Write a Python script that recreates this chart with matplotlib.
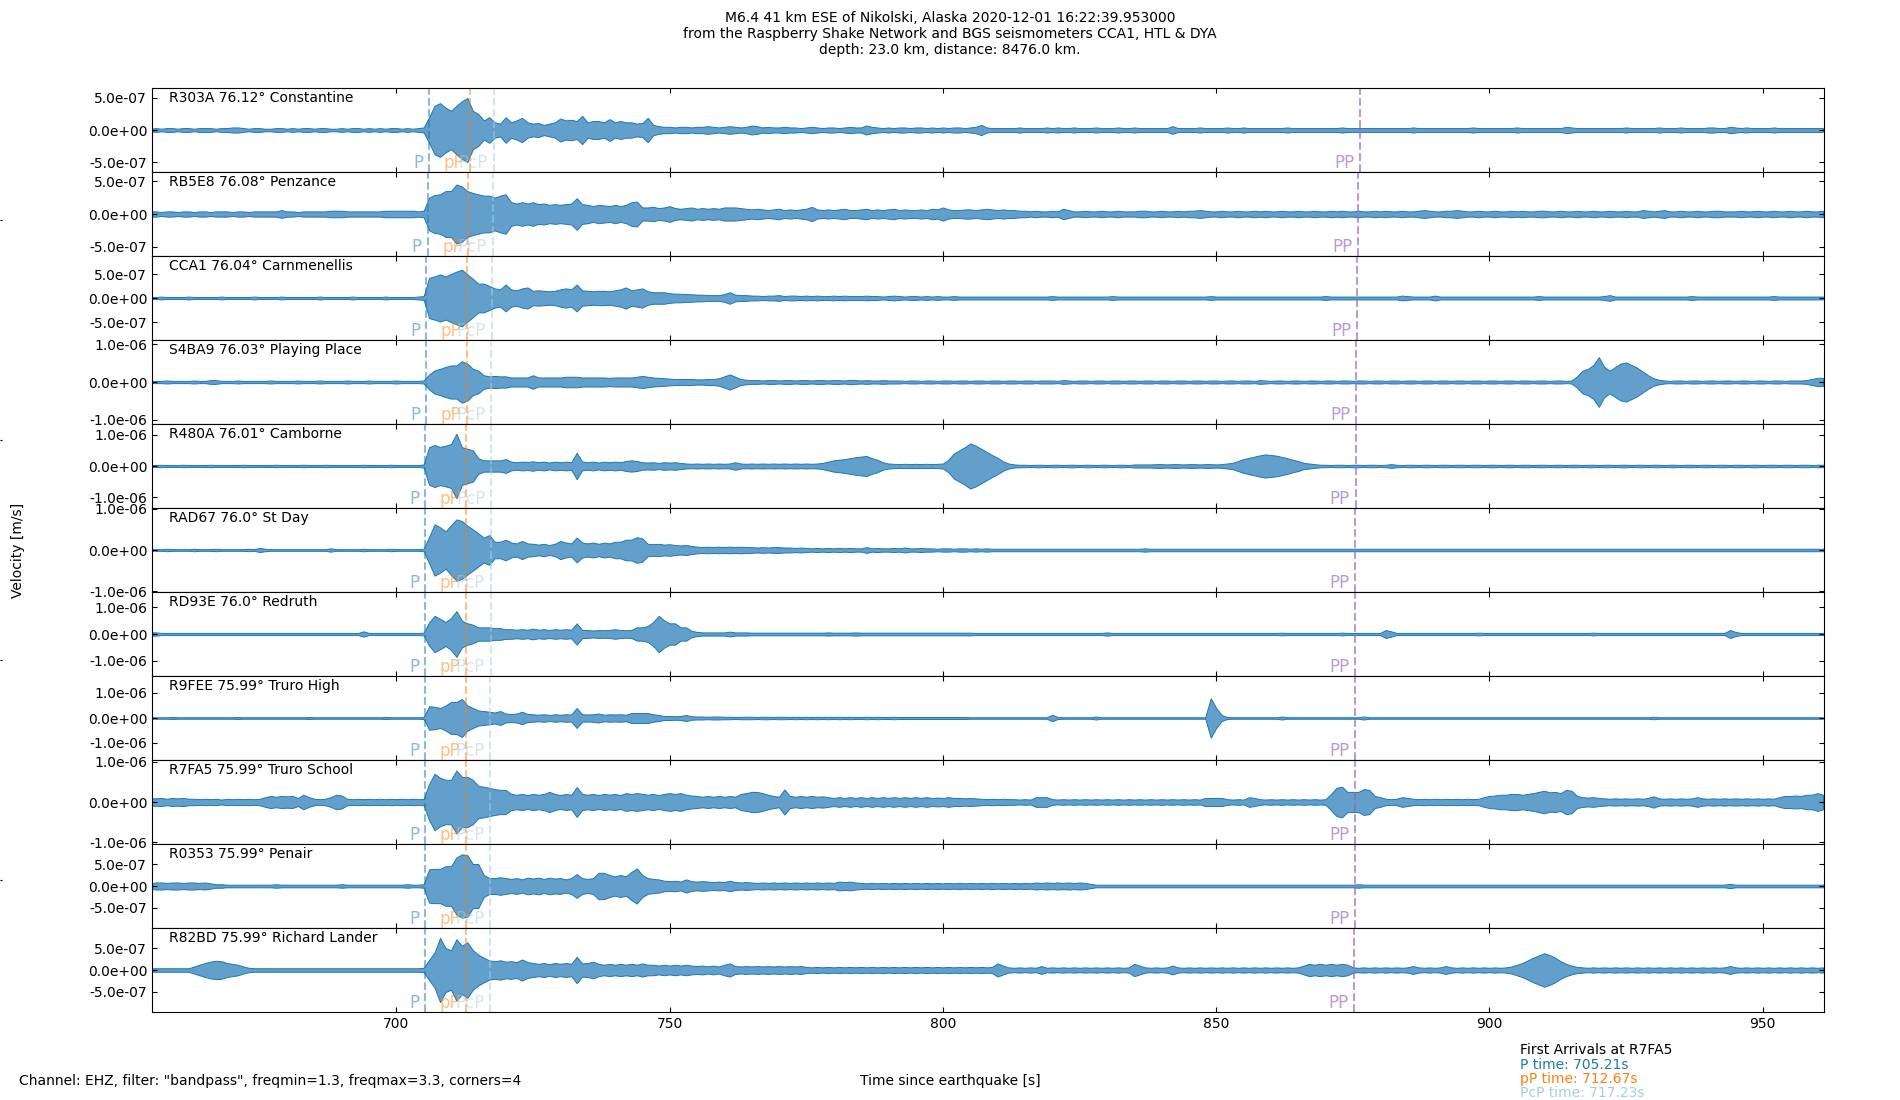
import numpy as np
import matplotlib
matplotlib.use("Agg")
import matplotlib.pyplot as plt
from matplotlib.ticker import FormatStrFormatter, MultipleLocator

# stations, top to bottom
CODES = ["R303A", "RB5E8", "CCA1", "S4BA9", "R480A", "RAD67", "RD93E", "R9FEE", "R7FA5", "R0353", "R82BD"]
DISTANCES = [76.12, 76.08, 76.04, 76.03, 76.01, 76.0, 76.0, 75.99, 75.99, 75.99, 75.99]
PLACES = ["Constantine", "Penzance", "Carnmenellis", "Playing Place", "Camborne", "St Day",
          "Redruth", "Truro High", "Truro School", "Penair", "Richard Lander"]

# phase arrival times per station [s]
P_TIMES = [705.93, 705.71, 705.49, 705.43, 705.32, 705.27, 705.27, 705.21, 705.21, 705.21, 705.21]
PP_SMALL_TIMES = [713.39, 713.17, 712.95, 712.89, 712.78, 712.73, 712.73, 712.67, 712.67, 712.67, 712.67]
PCP_TIMES = [717.82, 717.64, 717.46, 717.41, 717.32, 717.28, 717.28, 717.23, 717.23, 717.23, 717.23]
PP_TIMES = [876.3, 876.0, 875.75, 875.65, 875.5, 875.45, 875.45, 875.35, 875.35, 875.35, 875.3]

# y axis half range and tick value per station [m/s]
Y_LIMITS = [6.56e-7, 6.4e-7, 8.75e-7, 1.115e-6, 1.34e-6, 1.016e-6, 1.575e-6, 1.68e-6, 1.04e-6, 9.55e-7, 9.55e-7]
Y_TICKS = [5e-7, 5e-7, 5e-7, 1e-6, 1e-6, 1e-6, 1e-6, 1e-6, 1e-6, 5e-7, 5e-7]

# trace envelopes, one value per second from 655 s, units of 1e-8 m/s
T_START = 655.0
DT = 1.0

R303A_ENV = [
    2, 3, 2, 3, 3, 2, 3, 3, 2, 3,  # 655
    3, 3, 2, 3, 3, 4, 4, 3, 2, 3,  # 665
    3, 2, 2, 3, 3, 2, 3, 2, 3, 3,  # 675
    2, 3, 3, 2, 2, 3, 2, 3, 3, 2,  # 685
    3, 2, 3, 2, 3, 3, 2, 3, 2, 3,  # 695
    4, 20, 38, 42, 35, 30, 38, 45, 50, 30,  # 705
    25, 15, 20, 12, 10, 20, 12, 15, 19, 12,  # 715
    10, 11, 8, 10, 12, 18, 15, 16, 14, 22,  # 725
    12, 14, 14, 12, 17, 12, 14, 12, 12, 10,  # 735
    11, 19, 8, 6, 5, 5, 4, 5, 5, 4,  # 745
    5, 5, 6, 5, 4, 5, 6, 5, 4, 5,  # 755
    7, 6, 4, 5, 4, 4, 5, 4, 4, 3,  # 765
    4, 5, 4, 3, 4, 4, 3, 4, 5, 4,  # 775
    4, 7, 5, 4, 3, 4, 3, 4, 4, 3,  # 785
    4, 4, 3, 4, 3, 4, 3, 4, 4, 3,  # 795
    4, 5, 8, 4, 3, 3, 3, 3, 3, 4,  # 805
    3, 3, 3, 3, 4, 3, 4, 3, 3, 4,  # 815
    3, 3, 3, 4, 3, 3, 3, 4, 3, 3,  # 825
    4, 3, 3, 3, 3, 3, 3, 6, 3, 3,  # 835
    3, 3, 4, 3, 3, 3, 3, 4, 3, 3,  # 845
    4, 3, 3, 3, 3, 3, 3, 3, 4, 3,  # 855
    3, 3, 3, 3, 3, 3, 3, 3, 4, 3,  # 865
    3, 3, 3, 3, 3, 3, 3, 3, 3, 3,  # 875
    3, 4, 3, 3, 3, 3, 3, 3, 3, 3,  # 885
    3, 3, 4, 3, 3, 3, 3, 3, 3, 3,  # 895
    4, 3, 3, 3, 3, 3, 3, 3, 3, 5,  # 905
    4, 3, 3, 3, 3, 3, 3, 3, 3, 3,  # 915
    4, 3, 3, 3, 3, 3, 4, 3, 3, 3,  # 925
    4, 3, 3, 3, 3, 4, 4, 3, 3, 5,  # 935
    4, 3, 4, 3, 3, 3, 3, 4, 3, 3,  # 945
    3, 3, 3, 3, 3, 3, 3,  # 955
]

RB5E8_ENV = [
    4, 4, 3, 4, 4, 3, 4, 4, 3, 4,  # 655
    4, 3, 4, 4, 4, 3, 4, 4, 3, 4,  # 665
    4, 4, 4, 4, 6, 4, 4, 3, 4, 4,  # 675
    4, 4, 4, 5, 5, 5, 4, 4, 4, 4,  # 685
    4, 4, 4, 5, 5, 5, 5, 5, 5, 4,  # 695
    5, 25, 29, 30, 35, 35, 45, 42, 35, 32,  # 705
    30, 28, 28, 25, 28, 30, 18, 16, 18, 16,  # 715
    18, 15, 16, 14, 15, 14, 15, 16, 24, 15,  # 725
    14, 12, 14, 13, 12, 14, 12, 14, 18, 19,  # 735
    10, 10, 11, 9, 10, 12, 9, 8, 9, 10,  # 745
    8, 9, 8, 9, 8, 10, 10, 10, 9, 8,  # 755
    7, 8, 7, 6, 7, 8, 6, 7, 6, 7,  # 765
    8, 11, 7, 6, 7, 6, 7, 8, 6, 6,  # 775
    7, 8, 6, 7, 6, 7, 8, 6, 7, 6,  # 785
    6, 7, 6, 8, 7, 10, 7, 6, 6, 7,  # 795
    7, 6, 7, 8, 7, 6, 7, 6, 6, 5,  # 805
    5, 4, 5, 4, 4, 5, 4, 8, 6, 4,  # 815
    4, 5, 4, 4, 5, 4, 4, 5, 4, 4,  # 825
    4, 5, 5, 4, 4, 5, 4, 4, 5, 4,  # 835
    5, 5, 6, 5, 4, 4, 5, 4, 4, 5,  # 845
    4, 4, 5, 4, 5, 4, 4, 5, 4, 4,  # 855
    5, 4, 4, 5, 4, 4, 5, 4, 5, 4,  # 865
    4, 5, 4, 4, 5, 4, 5, 4, 4, 5,  # 875
    4, 4, 5, 6, 5, 4, 4, 5, 5, 6,  # 885
    5, 4, 4, 5, 4, 4, 5, 4, 4, 5,  # 895
    4, 5, 4, 4, 5, 5, 4, 4, 5, 4,  # 905
    4, 5, 4, 4, 5, 4, 4, 5, 4, 4,  # 915
    5, 4, 4, 6, 5, 4, 5, 6, 4, 4,  # 925
    5, 4, 4, 5, 4, 4, 5, 5, 4, 4,  # 935
    4, 5, 4, 4, 5, 4, 4, 5, 4, 4,  # 945
    5, 4, 4, 5, 4, 4, 5,  # 955
]

CCA1_ENV = [
    2, 2, 3, 2, 2, 2, 2, 3, 2, 2,  # 655
    2, 2, 2, 3, 2, 2, 2, 2, 2, 3,  # 665
    2, 2, 2, 2, 3, 2, 2, 2, 2, 2,  # 675
    2, 3, 2, 2, 2, 2, 2, 3, 2, 2,  # 685
    2, 2, 2, 3, 2, 2, 2, 2, 2, 3,  # 695
    4, 42, 45, 49, 45, 50, 55, 59, 49, 40,  # 705
    30, 30, 25, 20, 18, 28, 18, 16, 20, 22,  # 715
    15, 16, 15, 14, 15, 18, 20, 18, 28, 16,  # 725
    15, 14, 15, 15, 14, 16, 18, 22, 16, 18,  # 735
    20, 14, 12, 12, 12, 10, 9, 9, 8, 8,  # 745
    7, 7, 6, 6, 6, 8, 12, 7, 6, 6,  # 755
    5, 5, 4, 5, 5, 6, 4, 5, 5, 4,  # 765
    5, 4, 5, 4, 4, 5, 4, 5, 4, 4,  # 775
    4, 5, 4, 4, 3, 4, 5, 4, 3, 4,  # 785
    4, 3, 4, 3, 4, 3, 3, 4, 3, 3,  # 795
    3, 3, 3, 3, 3, 3, 3, 3, 3, 3,  # 805
    3, 3, 3, 3, 3, 4, 3, 3, 3, 3,  # 815
    3, 3, 3, 3, 3, 3, 4, 3, 3, 3,  # 825
    3, 3, 3, 3, 3, 3, 3, 3, 3, 3,  # 835
    3, 3, 3, 3, 4, 3, 3, 3, 3, 3,  # 845
    3, 3, 3, 3, 3, 3, 3, 3, 3, 3,  # 855
    3, 3, 3, 3, 3, 4, 3, 3, 3, 3,  # 865
    3, 3, 3, 3, 3, 3, 3, 3, 3, 5,  # 875
    4, 3, 3, 3, 3, 5, 3, 3, 3, 3,  # 885
    3, 3, 3, 3, 3, 3, 3, 3, 3, 3,  # 895
    3, 3, 3, 3, 4, 3, 3, 3, 3, 3,  # 905
    3, 3, 3, 3, 3, 3, 4, 6, 3, 3,  # 915
    3, 3, 3, 3, 3, 3, 3, 3, 3, 3,  # 925
    3, 3, 4, 3, 3, 3, 3, 3, 3, 3,  # 935
    3, 3, 3, 3, 3, 3, 3, 4, 3, 3,  # 945
    3, 3, 3, 3, 3, 3, 3,  # 955
]

S4BA9_ENV = [
    3, 3, 3, 4, 3, 3, 3, 3, 4, 3,  # 655
    3, 5, 5, 3, 3, 3, 4, 3, 3, 3,  # 665
    3, 3, 4, 3, 3, 3, 3, 4, 3, 3,  # 675
    3, 4, 3, 3, 3, 3, 4, 3, 3, 3,  # 685
    4, 3, 3, 3, 3, 4, 3, 3, 3, 3,  # 695
    4, 20, 31, 35, 40, 44, 44, 55, 49, 35,  # 705
    30, 18, 15, 16, 15, 15, 12, 12, 12, 12,  # 715
    18, 12, 12, 12, 12, 12, 14, 14, 14, 12,  # 725
    12, 12, 12, 12, 11, 12, 12, 12, 12, 14,  # 735
    16, 14, 12, 11, 10, 9, 8, 8, 8, 8,  # 745
    7, 7, 8, 8, 10, 15, 20, 14, 8, 6,  # 755
    5, 5, 4, 5, 5, 4, 5, 5, 4, 5,  # 765
    5, 4, 5, 5, 4, 5, 5, 4, 6, 5,  # 775
    4, 5, 4, 4, 5, 4, 4, 4, 3, 4,  # 785
    4, 3, 4, 4, 3, 4, 4, 3, 4, 4,  # 795
    3, 4, 4, 3, 4, 4, 3, 4, 4, 3,  # 805
    4, 4, 3, 4, 4, 4, 3, 5, 4, 3,  # 815
    4, 4, 3, 4, 4, 3, 4, 4, 3, 4,  # 825
    4, 3, 4, 4, 3, 4, 4, 3, 4, 4,  # 835
    3, 4, 4, 3, 4, 4, 3, 4, 4, 3,  # 845
    4, 4, 3, 5, 4, 3, 4, 4, 3, 4,  # 855
    4, 3, 4, 4, 3, 4, 4, 3, 4, 4,  # 865
    3, 4, 4, 3, 4, 4, 3, 4, 4, 3,  # 875
    4, 4, 3, 4, 4, 3, 4, 4, 3, 4,  # 885
    4, 3, 4, 4, 3, 4, 4, 3, 4, 4,  # 895
    3, 4, 4, 3, 4, 4, 3, 4, 4, 3,  # 905
    4, 15, 30, 35, 45, 66, 40, 30, 40, 49,  # 915
    52, 45, 38, 28, 18, 10, 6, 4, 3, 4,  # 925
    4, 3, 4, 4, 3, 4, 4, 3, 4, 4,  # 935
    3, 4, 4, 3, 4, 4, 3, 4, 4, 3,  # 945
    4, 4, 4, 5, 8, 11, 11,  # 955
]

R480A_ENV = [
    3, 3, 4, 3, 3, 3, 4, 3, 3, 3,  # 655
    3, 4, 3, 3, 3, 3, 3, 4, 3, 3,  # 665
    3, 3, 3, 4, 3, 3, 3, 3, 4, 3,  # 675
    3, 3, 4, 3, 3, 3, 3, 3, 3, 4,  # 685
    3, 3, 3, 3, 4, 3, 3, 3, 3, 3,  # 695
    5, 60, 67, 61, 65, 70, 103, 60, 55, 50,  # 705
    25, 18, 18, 18, 18, 22, 14, 12, 14, 13,  # 715
    15, 12, 14, 11, 14, 12, 14, 12, 42, 14,  # 725
    12, 14, 11, 14, 12, 14, 12, 16, 18, 16,  # 735
    12, 11, 12, 10, 12, 11, 12, 10, 8, 7,  # 745
    8, 7, 8, 7, 8, 7, 8, 12, 8, 7,  # 755
    8, 7, 8, 7, 8, 7, 8, 7, 8, 7,  # 765
    8, 7, 8, 10, 14, 18, 20, 22, 25, 28,  # 775
    30, 32, 25, 20, 12, 8, 7, 6, 7, 6,  # 785
    7, 6, 7, 6, 7, 8, 20, 40, 50, 60,  # 795
    72, 65, 55, 45, 35, 26, 15, 8, 5, 4,  # 805
    4, 3, 4, 4, 3, 4, 4, 3, 4, 4,  # 815
    3, 4, 4, 3, 4, 4, 3, 4, 4, 3,  # 825
    5, 5, 5, 5, 6, 6, 5, 6, 6, 5,  # 835
    6, 6, 5, 6, 6, 5, 6, 8, 10, 16,  # 845
    22, 26, 30, 34, 37, 35, 33, 29, 25, 20,  # 855
    16, 10, 8, 6, 4, 4, 3, 4, 4, 3,  # 865
    4, 4, 3, 4, 4, 3, 4, 6, 4, 3,  # 875
    4, 4, 3, 4, 4, 3, 4, 4, 3, 4,  # 885
    4, 3, 4, 4, 3, 4, 4, 3, 4, 4,  # 895
    3, 4, 4, 3, 4, 4, 3, 4, 4, 3,  # 905
    4, 4, 3, 4, 4, 3, 4, 4, 3, 4,  # 915
    4, 3, 4, 4, 3, 4, 4, 3, 4, 4,  # 925
    3, 4, 4, 3, 4, 4, 3, 4, 4, 3,  # 935
    4, 4, 3, 4, 4, 3, 4, 4, 3, 4,  # 945
    4, 3, 4, 4, 3, 4, 4,  # 955
]

RAD67_ENV = [
    2, 2, 2, 3, 2, 2, 2, 2, 3, 2,  # 655
    2, 2, 3, 2, 2, 2, 2, 2, 3, 2,  # 665
    5, 3, 2, 2, 2, 2, 2, 2, 2, 2,  # 675
    2, 2, 2, 4, 2, 2, 2, 2, 2, 3,  # 685
    2, 2, 2, 2, 3, 2, 2, 2, 2, 2,  # 695
    3, 32, 62, 55, 45, 60, 74, 70, 59, 50,  # 705
    40, 30, 36, 20, 20, 25, 18, 16, 22, 16,  # 715
    15, 13, 15, 12, 15, 22, 18, 16, 30, 18,  # 725
    16, 18, 15, 18, 16, 20, 20, 25, 25, 31,  # 735
    28, 15, 14, 15, 13, 14, 12, 11, 12, 10,  # 745
    8, 7, 8, 7, 8, 7, 8, 7, 8, 7,  # 755
    7, 6, 7, 6, 7, 7, 6, 6, 5, 6,  # 765
    5, 4, 5, 4, 5, 4, 5, 4, 5, 4,  # 775
    4, 7, 4, 5, 4, 4, 5, 4, 6, 4,  # 785
    4, 5, 4, 4, 3, 4, 4, 3, 4, 4,  # 795
    3, 4, 3, 4, 3, 3, 3, 3, 3, 3,  # 805
    3, 3, 3, 3, 3, 3, 3, 3, 3, 3,  # 815
    3, 3, 3, 3, 3, 3, 3, 3, 3, 3,  # 825
    3, 3, 4, 3, 3, 3, 3, 3, 3, 3,  # 835
    3, 3, 3, 3, 3, 3, 3, 3, 3, 3,  # 845
    3, 3, 3, 3, 3, 3, 3, 3, 3, 3,  # 855
    3, 3, 3, 3, 3, 3, 3, 3, 3, 3,  # 865
    3, 3, 3, 3, 3, 3, 3, 3, 3, 3,  # 875
    3, 3, 3, 3, 3, 3, 3, 3, 3, 3,  # 885
    3, 3, 3, 3, 3, 3, 3, 3, 3, 3,  # 895
    3, 3, 3, 3, 3, 3, 3, 3, 3, 3,  # 905
    3, 3, 3, 3, 3, 3, 3, 3, 3, 3,  # 915
    3, 3, 3, 3, 3, 3, 3, 3, 3, 3,  # 925
    3, 3, 3, 3, 3, 3, 3, 3, 3, 3,  # 935
    3, 3, 3, 3, 3, 3, 3, 3, 3, 3,  # 945
    3, 3, 3, 3, 3, 3, 3,  # 955
]

RD93E_ENV = [
    7, 6, 4, 4, 4, 4, 4, 4, 4, 4,  # 655
    4, 4, 4, 4, 4, 4, 4, 4, 4, 4,  # 665
    4, 4, 4, 4, 4, 4, 4, 4, 4, 4,  # 675
    4, 4, 4, 4, 4, 4, 4, 4, 4, 10,  # 685
    4, 4, 4, 4, 4, 4, 4, 4, 4, 4,  # 695
    5, 44, 68, 57, 45, 60, 86, 50, 40, 35,  # 705
    25, 25, 25, 22, 22, 18, 18, 16, 18, 16,  # 715
    20, 16, 18, 15, 18, 16, 18, 16, 40, 15,  # 725
    15, 13, 15, 14, 15, 18, 15, 14, 15, 25,  # 735
    25, 30, 45, 68, 51, 40, 40, 25, 25, 12,  # 745
    8, 6, 6, 6, 6, 6, 9, 6, 6, 6,  # 755
    5, 5, 5, 5, 5, 5, 5, 5, 5, 5,  # 765
    5, 5, 5, 5, 6, 5, 5, 5, 5, 6,  # 775
    5, 5, 5, 5, 5, 5, 5, 5, 5, 5,  # 785
    5, 5, 5, 5, 5, 5, 5, 5, 5, 5,  # 795
    5, 4, 4, 4, 4, 4, 4, 4, 4, 4,  # 805
    4, 4, 4, 4, 4, 4, 4, 4, 4, 4,  # 815
    4, 4, 4, 4, 4, 6, 4, 4, 4, 4,  # 825
    4, 4, 4, 4, 4, 4, 4, 4, 4, 4,  # 835
    4, 4, 4, 4, 4, 4, 4, 4, 4, 4,  # 845
    4, 4, 4, 4, 4, 4, 4, 5, 4, 4,  # 855
    4, 4, 4, 4, 4, 4, 4, 4, 5, 4,  # 865
    4, 4, 4, 4, 4, 4, 15, 10, 4, 4,  # 875
    4, 4, 4, 4, 4, 4, 4, 4, 4, 4,  # 885
    4, 4, 4, 5, 4, 4, 4, 4, 4, 4,  # 895
    4, 4, 4, 4, 4, 4, 4, 4, 4, 4,  # 905
    4, 4, 4, 4, 5, 4, 4, 4, 4, 4,  # 915
    4, 4, 4, 4, 4, 4, 4, 4, 4, 4,  # 925
    4, 4, 4, 4, 4, 4, 4, 4, 4, 15,  # 935
    8, 4, 4, 4, 4, 4, 4, 4, 4, 4,  # 945
    4, 4, 4, 4, 4, 4, 4,  # 955
]

R9FEE_ENV = [
    3, 3, 3, 3, 4, 3, 3, 3, 3, 3,  # 655
    3, 3, 3, 3, 3, 3, 4, 3, 3, 3,  # 665
    3, 3, 3, 3, 3, 3, 3, 3, 3, 4,  # 675
    3, 3, 3, 3, 3, 3, 3, 3, 3, 3,  # 685
    3, 3, 3, 4, 3, 3, 3, 3, 3, 3,  # 695
    4, 47, 45, 40, 50, 64, 64, 76, 50, 40,  # 705
    30, 28, 25, 22, 28, 18, 16, 18, 25, 16,  # 715
    15, 13, 15, 12, 15, 13, 15, 14, 40, 15,  # 725
    14, 15, 18, 13, 15, 14, 15, 13, 20, 20,  # 735
    20, 20, 15, 12, 8, 8, 7, 8, 12, 7,  # 745
    6, 6, 5, 6, 6, 5, 5, 4, 5, 5,  # 755
    5, 4, 5, 5, 4, 5, 5, 4, 5, 4,  # 765
    5, 4, 5, 4, 5, 4, 5, 4, 5, 4,  # 775
    4, 5, 4, 5, 4, 4, 5, 4, 4, 4,  # 785
    4, 4, 4, 4, 4, 4, 4, 4, 4, 4,  # 795
    3, 3, 3, 3, 3, 3, 3, 3, 3, 3,  # 805
    3, 3, 3, 3, 3, 13, 4, 3, 3, 3,  # 815
    3, 3, 3, 6, 3, 3, 3, 3, 3, 3,  # 825
    3, 3, 3, 3, 3, 3, 3, 3, 3, 3,  # 835
    3, 3, 3, 3, 79, 40, 12, 4, 3, 3,  # 845
    3, 3, 3, 3, 3, 3, 3, 6, 3, 3,  # 855
    3, 3, 3, 3, 3, 3, 3, 3, 3, 3,  # 865
    3, 3, 6, 3, 3, 3, 3, 3, 3, 3,  # 875
    3, 3, 3, 3, 3, 3, 3, 3, 3, 3,  # 885
    3, 3, 3, 3, 3, 3, 3, 3, 3, 3,  # 895
    3, 3, 3, 3, 3, 3, 3, 3, 3, 3,  # 905
    3, 3, 3, 3, 3, 3, 3, 3, 3, 3,  # 915
    3, 3, 3, 3, 3, 5, 3, 3, 3, 3,  # 925
    3, 3, 3, 3, 3, 3, 3, 3, 3, 3,  # 935
    3, 3, 3, 3, 3, 3, 3, 3, 3, 3,  # 945
    3, 3, 3, 3, 3, 3, 3,  # 955
]

R7FA5_ENV = [
    10, 9, 10, 8, 10, 9, 10, 8, 8, 7,  # 655
    8, 7, 8, 6, 8, 7, 8, 7, 8, 7,  # 665
    8, 12, 15, 13, 15, 14, 15, 10, 18, 12,  # 675
    8, 7, 8, 12, 18, 16, 8, 7, 8, 7,  # 685
    8, 7, 8, 7, 8, 7, 8, 7, 8, 7,  # 695
    8, 45, 70, 60, 55, 55, 78, 62, 62, 55,  # 705
    40, 38, 35, 32, 30, 30, 20, 18, 20, 17,  # 715
    20, 18, 20, 25, 20, 17, 20, 18, 37, 20,  # 725
    18, 20, 17, 20, 18, 20, 17, 22, 20, 22,  # 735
    20, 18, 20, 17, 20, 22, 20, 22, 18, 16,  # 745
    15, 13, 15, 13, 15, 13, 15, 13, 20, 22,  # 755
    25, 25, 22, 18, 15, 13, 31, 15, 13, 15,  # 765
    13, 15, 13, 14, 12, 10, 12, 10, 12, 10,  # 775
    12, 10, 12, 10, 12, 10, 12, 10, 12, 10,  # 785
    12, 10, 12, 10, 11, 10, 12, 10, 10, 9,  # 795
    10, 9, 8, 7, 8, 7, 8, 7, 7, 6,  # 805
    7, 6, 12, 12, 12, 7, 6, 7, 6, 7,  # 815
    6, 7, 6, 7, 6, 7, 6, 7, 6, 7,  # 825
    6, 7, 6, 7, 6, 7, 6, 7, 6, 7,  # 835
    6, 7, 6, 10, 10, 10, 10, 7, 6, 7,  # 845
    6, 12, 10, 7, 6, 7, 6, 7, 6, 7,  # 855
    6, 7, 6, 7, 6, 7, 20, 35, 38, 25,  # 865
    25, 25, 32, 30, 15, 12, 8, 7, 8, 12,  # 875
    10, 8, 7, 8, 7, 8, 7, 8, 7, 8,  # 885
    7, 8, 7, 8, 12, 15, 16, 18, 18, 20,  # 895
    20, 18, 20, 22, 25, 28, 24, 25, 22, 30,  # 905
    28, 15, 12, 11, 12, 10, 9, 8, 9, 8,  # 915
    9, 8, 9, 8, 10, 14, 9, 8, 9, 8,  # 925
    9, 8, 9, 12, 9, 8, 9, 8, 9, 8,  # 935
    9, 8, 9, 8, 9, 8, 9, 8, 12, 15,  # 945
    15, 16, 15, 18, 18, 22, 18,  # 955
]

R0353_ENV = [
    6, 8, 8, 7, 8, 8, 7, 8, 8, 7,  # 655
    8, 6, 4, 4, 3, 3, 3, 3, 3, 3,  # 665
    3, 3, 3, 4, 3, 3, 3, 3, 3, 3,  # 675
    3, 3, 3, 3, 3, 4, 3, 3, 3, 3,  # 685
    3, 3, 3, 3, 3, 3, 3, 4, 3, 3,  # 695
    4, 38, 39, 39, 45, 45, 65, 72, 70, 50,  # 705
    50, 25, 18, 18, 20, 18, 16, 18, 15, 19,  # 715
    17, 19, 16, 19, 17, 18, 15, 18, 27, 18,  # 725
    16, 18, 30, 30, 25, 22, 25, 22, 32, 40,  # 735
    25, 18, 16, 15, 12, 11, 12, 10, 15, 11,  # 745
    10, 11, 10, 9, 10, 9, 12, 9, 8, 9,  # 755
    8, 7, 8, 7, 8, 7, 8, 7, 8, 7,  # 765
    8, 7, 8, 7, 8, 7, 10, 9, 10, 8,  # 775
    7, 6, 7, 6, 7, 6, 7, 6, 7, 6,  # 785
    7, 6, 7, 6, 7, 6, 7, 6, 7, 6,  # 795
    7, 6, 7, 6, 7, 6, 7, 6, 7, 6,  # 805
    7, 6, 8, 7, 8, 7, 8, 7, 8, 7,  # 815
    8, 7, 5, 3, 3, 3, 3, 3, 3, 3,  # 825
    3, 3, 3, 3, 3, 3, 3, 3, 3, 3,  # 835
    3, 3, 3, 3, 3, 3, 3, 3, 3, 3,  # 845
    3, 3, 3, 3, 3, 3, 3, 3, 3, 3,  # 855
    3, 3, 3, 3, 3, 3, 3, 3, 3, 3,  # 865
    3, 4, 3, 3, 3, 3, 3, 3, 3, 3,  # 875
    3, 3, 3, 3, 3, 3, 3, 3, 3, 3,  # 885
    3, 3, 3, 3, 3, 3, 3, 3, 3, 3,  # 895
    3, 3, 3, 3, 3, 3, 3, 3, 3, 3,  # 905
    3, 3, 3, 3, 3, 3, 3, 3, 3, 3,  # 915
    3, 3, 3, 3, 3, 3, 3, 3, 3, 3,  # 925
    3, 3, 3, 3, 3, 3, 3, 3, 3, 5,  # 935
    3, 3, 3, 3, 3, 3, 3, 3, 3, 3,  # 945
    3, 3, 3, 3, 3, 3, 3,  # 955
]

R82BD_ENV = [
    4, 4, 4, 4, 4, 4, 4, 4, 8, 12,  # 655
    16, 19, 21, 20, 16, 14, 12, 8, 5, 4,  # 665
    4, 4, 4, 4, 4, 4, 4, 4, 4, 4,  # 675
    4, 4, 4, 4, 4, 4, 4, 4, 4, 4,  # 685
    4, 4, 4, 4, 4, 4, 4, 4, 4, 4,  # 695
    5, 23, 40, 73, 50, 45, 70, 55, 63, 45,  # 705
    35, 28, 22, 20, 22, 19, 20, 18, 24, 18,  # 715
    16, 14, 16, 13, 16, 14, 16, 14, 30, 15,  # 725
    16, 19, 14, 12, 14, 12, 14, 12, 14, 12,  # 735
    15, 12, 12, 10, 12, 10, 12, 10, 12, 10,  # 745
    9, 10, 8, 10, 8, 12, 15, 9, 8, 9,  # 755
    8, 9, 8, 9, 8, 9, 8, 9, 8, 9,  # 765
    7, 6, 7, 6, 7, 6, 7, 6, 7, 6,  # 775
    7, 6, 7, 6, 7, 6, 7, 6, 7, 6,  # 785
    7, 6, 7, 6, 7, 6, 7, 6, 7, 6,  # 795
    7, 6, 7, 6, 7, 15, 10, 6, 5, 6,  # 805
    5, 6, 5, 9, 5, 6, 5, 6, 5, 6,  # 815
    5, 6, 5, 6, 5, 6, 5, 6, 5, 6,  # 825
    14, 10, 6, 5, 6, 5, 6, 10, 6, 5,  # 835
    6, 5, 6, 5, 6, 5, 6, 5, 6, 5,  # 845
    6, 5, 6, 5, 6, 5, 6, 5, 6, 5,  # 855
    6, 10, 14, 12, 14, 12, 14, 12, 14, 12,  # 865
    6, 5, 6, 5, 6, 5, 6, 5, 6, 5,  # 875
    6, 9, 6, 5, 6, 5, 6, 9, 6, 5,  # 885
    6, 5, 6, 5, 6, 5, 6, 5, 6, 8,  # 895
    12, 16, 22, 28, 33, 38, 34, 28, 20, 14,  # 905
    10, 7, 6, 5, 6, 5, 6, 5, 6, 5,  # 915
    6, 5, 6, 5, 6, 5, 6, 5, 6, 5,  # 925
    6, 5, 6, 5, 6, 5, 6, 5, 6, 9,  # 935
    6, 5, 6, 5, 6, 5, 6, 5, 6, 5,  # 945
    6, 5, 6, 5, 6, 5, 6,  # 955
]

TRACES = [R303A_ENV, RB5E8_ENV, CCA1_ENV, S4BA9_ENV, R480A_ENV, RAD67_ENV,
          RD93E_ENV, R9FEE_ENV, R7FA5_ENV, R0353_ENV, R82BD_ENV]

TITLE = ("M6.4 41 km ESE of Nikolski, Alaska 2020-12-01 16:22:39.953000\n"
         "from the Raspberry Shake Network and BGS seismometers CCA1, HTL & DYA\n"
         "depth: 23.0 km, distance: 8476.0 km.")
FILTER_NOTE = 'Channel: EHZ, filter: "bandpass", freqmin=1.3, freqmax=3.3, corners=4'
REF_STATION = "R7FA5"
REF_P, REF_PP_SMALL, REF_PCP = 705.21, 712.67, 717.23

PCP_COLOR = "#a6cee3"
phases = [("P", P_TIMES, "C0", 0.5),
          ("pP", PP_SMALL_TIMES, "C1", 0.5),
          ("PcP", PCP_TIMES, PCP_COLOR, 0.5),
          ("PP", PP_TIMES, "C4", 0.65)]

fig, axes = plt.subplots(len(CODES), 1, sharex=True, figsize=(19, 11), dpi=100)
fig.subplots_adjust(left=0.08, right=0.96, top=0.92, bottom=0.08, hspace=0)

for i, ax in enumerate(axes):
    env = np.array(TRACES[i], dtype=float) * 1e-8
    t = T_START + DT * np.arange(len(env))
    # waveform drawn as its envelope band: lighter inside, trace colour at the edges
    ax.fill_between(t, -env, env, facecolor=(0.122, 0.467, 0.706, 0.7),
                    edgecolor="C0", linewidth=0.7)

    for name, times, colour, alpha in phases:
        ax.axvline(times[i], color=colour, alpha=alpha, ls="--", lw=1.5)
        ax.annotate(name, xy=(times[i], 0), xycoords=ax.get_xaxis_transform(),
                    xytext=(-4, 0), textcoords="offset points", ha="right", va="bottom",
                    color=colour, alpha=alpha, fontsize=12)

    ax.text(0.01, 0.97, f"{CODES[i]} {DISTANCES[i]}\u00b0 {PLACES[i]}",
            transform=ax.transAxes, ha="left", va="top", fontsize=10)

    ax.set_ylim(-Y_LIMITS[i], Y_LIMITS[i])
    ax.set_yticks([-Y_TICKS[i], 0, Y_TICKS[i]])
    ax.yaxis.set_major_formatter(FormatStrFormatter("%.1e"))
    ax.tick_params(direction="in", top=True, right=True, labelsize=10)

axes[-1].set_xlim(655.3, 961.2)
axes[-1].xaxis.set_major_locator(MultipleLocator(50))

# full-figure helper axes, only its small left ticks show
bg = fig.add_axes([0, 0, 1, 1], frameon=False, zorder=-1)
bg.set_xticks([])
bg.set_yticks([0.2, 0.4, 0.6, 0.8])
bg.set_yticklabels([])
bg.tick_params(direction="in", length=1.5)

fig.text(0.5, 0.99, TITLE, ha="center", va="top", fontsize=10)
fig.text(0.006, 0.5, "Velocity [m/s]", rotation=90, ha="left", va="center", fontsize=10)
fig.text(0.01, 0.0176, FILTER_NOTE, ha="left", va="center", fontsize=10)
fig.text(0.5, 0.0176, "Time since earthquake [s]", ha="center", va="center", fontsize=10)

fig.text(0.8, 0.0452, f"First Arrivals at {REF_STATION}", ha="left", va="center", fontsize=10)
fig.text(0.8, 0.0322, f"P time: {REF_P:.2f}s", ha="left", va="center", fontsize=10, color="C0")
fig.text(0.8, 0.0195, f"pP time: {REF_PP_SMALL:.2f}s", ha="left", va="center", fontsize=10, color="C1")
fig.text(0.8, 0.0065, f"PcP time: {REF_PCP:.2f}s", ha="left", va="center", fontsize=10, color=PCP_COLOR)

fig.savefig("out.png", dpi=100)
